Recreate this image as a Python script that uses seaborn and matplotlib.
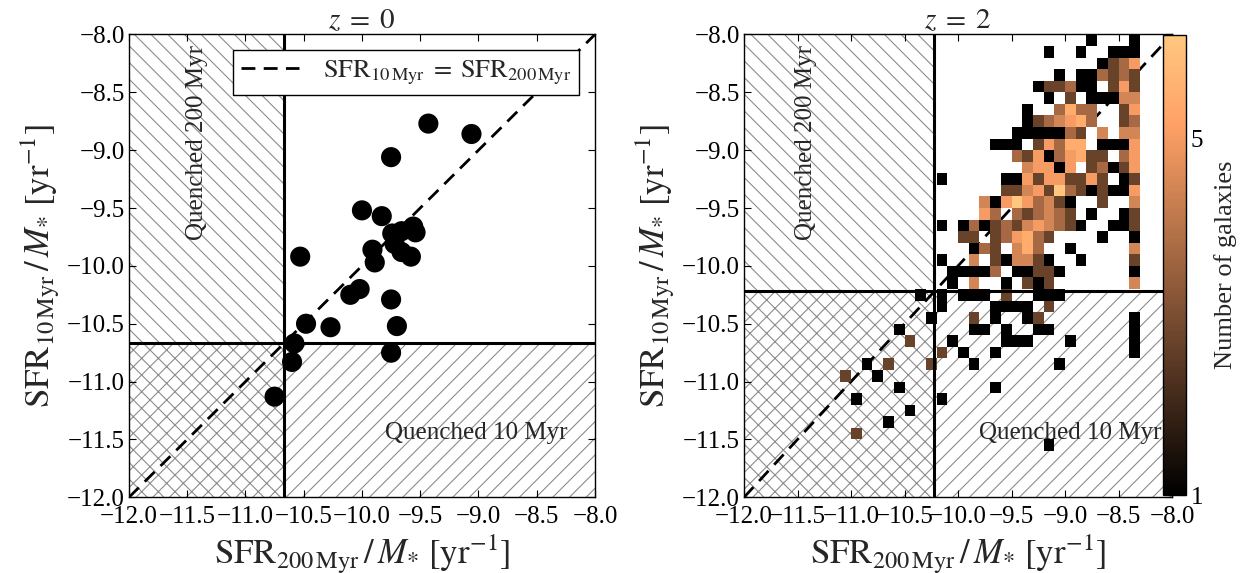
import numpy as np
import matplotlib
matplotlib.use("Agg")
import matplotlib.pyplot as plt
import seaborn as sns
from matplotlib.colors import LogNorm
from matplotlib.patches import Rectangle
from matplotlib.ticker import FuncFormatter, NullLocator

# ---------------- data ----------------
# z = 0 galaxies: log sSFR over 200 Myr (x) and 10 Myr (y)
z0_x = [-9.43, -9.06, -9.75, -10.00, -9.83, -9.74, -9.66, -9.56, -9.54, -9.72,
        -9.66, -9.58, -9.91, -9.89, -10.53, -10.02, -10.10, -9.75, -10.48, -10.27,
        -9.70, -10.58, -9.75, -10.60, -10.75]
z0_y = [-8.77, -8.86, -9.06, -9.52, -9.57, -9.72, -9.70, -9.66, -9.71, -9.81,
        -9.88, -9.92, -9.86, -9.97, -9.92, -10.20, -10.25, -10.29, -10.50, -10.53,
        -10.52, -10.67, -10.75, -10.83, -11.13]

# z = 2 galaxies: 2D histogram counts on a 40x40 grid over [-12,-8]^2
# rows from top (y=-8.0) downward, columns from x=-12.0 rightward; '.' = empty
z2_rows = [
    "..........|..........|..........|..1...1...",
    "..........|..........|........1.|.1..111...",
    "..........|..........|..........|...1235...",
    "..........|..........|.........1|.113232...",
    "..........|..........|.......122|311.252...",
    "..........|..........|........1.|2.11144...",
    "..........|..........|......1..3|633..25...",
    "..........|..........|......1234|563..23...",
    "..........|..........|.....11111|32.4.44...",
    "..........|..........|...111.253|66.1115...",
    "..........|..........|.....32513|5622.35...",
    "..........|..........|......4551|5.23125...",
    "..........|........1.|....115255|2252.12...",
    "..........|..........|....224528|3212115...",
    "..........|..........|..41585342|1..2..4...",
    "..........|..........|..53.32343|2.1..12...",
    "..........|........1.|1312324543|21..112...",
    "..........|..........|22.235632.|...1..1...",
    "..........|..........|.132.463..|1.....4...",
    "..........|........1.|.4.214421.|.1....2...",
    "..........|.........1|1113.11221|......1...",
    "..........|.........1|.4..1.212.|......4...",
    "..........|......1.1.|111.2..111|..........",
    "..........|........1.|...1111.2.|..........",
    "..........|.......1..|.2.1..12..|......1...",
    "..........|....1.....|.11.1..11.|......1...",
    "..........|.....2...1|....111...|1.....1...",
    "..........|........2.|1..1......|......1...",
    "..........|.1.2...2..|.1.......1|..........",
    ".........2|..1.......|..........|..........",
    "..........|....1.....|...1......|..........",
    "..........|1.......1.|..........|..........",
    "..........|.....1....|..........|..........",
    "..........|...1......|..........|..........",
    "..........|2.........|..........|..........",
    "..........|..........|........1.|..........",
]

sfr_lim = [-12.0, -8.0]
tick_vals = [-12.0, -11.5, -11.0, -10.5, -10.0, -9.5, -9.0, -8.5, -8.0]
thr_z0 = -10.67
thr_z2 = -10.22
n_bins = 40
cbar_ticks = [1, 5]
count_max = 8
titles = [r"$z\;=\;0$", r"$z\;=\;2$"]
xlabel = r"$\mathrm{SFR}_{200\,\mathrm{Myr}}\,/\,M_{*}\ [\mathrm{yr}^{-1}]$"
ylabel = r"$\mathrm{SFR}_{10\,\mathrm{Myr}}\,/\,M_{*}\ [\mathrm{yr}^{-1}]$"
legend_label = r"$\mathrm{SFR}_{10\,\mathrm{Myr}}\;=\;\mathrm{SFR}_{200\,\mathrm{Myr}}$"

# ---------------- style ----------------
sns.set_theme(style="white")
plt.rcParams.update({
    "font.family": ["Liberation Serif", "DejaVu Serif"],
    "mathtext.fontset": "stix",
    "axes.edgecolor": "black",
    "axes.linewidth": 1.0,
    "xtick.direction": "in",
    "ytick.direction": "in",
    "xtick.top": True,
    "ytick.right": True,
    "xtick.bottom": True,
    "ytick.left": True,
    "xtick.major.size": 5,
    "ytick.major.size": 5,
    "xtick.major.width": 0.8,
    "ytick.major.width": 0.8,
    "xtick.color": "black",
    "ytick.color": "black",
    "hatch.color": "#8c8c8c",
    "hatch.linewidth": 0.8,
})

fig = plt.figure(figsize=(12.4, 5.73), dpi=100)
ax1 = fig.add_axes([0.1040, 0.1321, 0.3758, 0.8077])
ax2 = fig.add_axes([0.6000, 0.1321, 0.3452, 0.8077])
cax = fig.add_axes([0.9379, 0.1361, 0.0185, 0.8028])

minus_fmt = FuncFormatter(lambda v, p: f"{v:.1f}".replace("-", "\u2212"))


def hatch_regions(ax, thr):
    lo, hi = sfr_lim
    ax.add_patch(Rectangle((lo, thr), thr - lo, hi - thr, fill=False,
                           hatch="\\\\", lw=0, edgecolor="#8c8c8c", zorder=0))
    ax.add_patch(Rectangle((thr, lo), hi - thr, thr - lo, fill=False,
                           hatch="//", lw=0, edgecolor="#8c8c8c", zorder=0))
    ax.add_patch(Rectangle((lo, lo), thr - lo, thr - lo, fill=False,
                           hatch="xx", lw=0, edgecolor="#8c8c8c", zorder=0))


def style_axes(ax, title):
    ax.set_xlim(sfr_lim)
    ax.set_ylim(sfr_lim)
    ax.set_xticks(tick_vals)
    ax.set_yticks(tick_vals)
    ax.xaxis.set_major_formatter(minus_fmt)
    ax.yaxis.set_major_formatter(minus_fmt)
    ax.tick_params(axis="x", labelsize=18, pad=6)
    ax.tick_params(axis="y", labelsize=18, pad=3)
    ax.set_xlabel(xlabel, fontsize=25, labelpad=3)
    ax.set_ylabel(ylabel, fontsize=25, labelpad=4)
    ax.set_title(title, fontsize=21, pad=4)
    for s in ax.spines.values():
        s.set_color("black")
        s.set_linewidth(1.0)


def quench_text(ax):
    ax.text(-11.42, -8.93, "Quenched 200 Myr", rotation=90, fontsize=18,
            ha="center", va="center", zorder=6)
    ax.text(-9.80, -11.44, "Quenched 10 Myr", fontsize=18,
            ha="left", va="center", zorder=6)


# ---------------- left panel: z = 0 ----------------
hatch_regions(ax1, thr_z0)
ax1.axvline(thr_z0, color="black", lw=2.2, zorder=3)
ax1.axhline(thr_z0, color="black", lw=2.2, zorder=3)
sns.lineplot(x=sfr_lim, y=sfr_lim, ax=ax1, color="black", lw=2,
             label=legend_label, zorder=4)
ax1.lines[-1].set_dashes([5, 3])
sns.scatterplot(x=z0_x, y=z0_y, ax=ax1, s=210, color="black",
                edgecolor="none", zorder=5, legend=False)
quench_text(ax1)
leg = ax1.legend(loc="upper right", fontsize=19, frameon=True, fancybox=False,
                 edgecolor="black", framealpha=1, handlelength=2.2,
                 borderaxespad=0.6, borderpad=0.3, handletextpad=0.9)
leg.get_frame().set_linewidth(1.0)
leg.set_zorder(10)
style_axes(ax1, titles[0])

# ---------------- right panel: z = 2 ----------------
counts = np.array([[0 if c == "." else int(c) for c in r.replace("|", "")]
                   for r in z2_rows], dtype=float)
counts = np.vstack([counts, np.zeros((n_bins - counts.shape[0], n_bins))])
x_edges = np.linspace(sfr_lim[0], sfr_lim[1], n_bins + 1)
y_edges = np.linspace(sfr_lim[1], sfr_lim[0], n_bins + 1)

hatch_regions(ax2, thr_z2)
sns.lineplot(x=sfr_lim, y=sfr_lim, ax=ax2, color="black", lw=2, zorder=1,
             legend=False)
ax2.lines[-1].set_dashes([5, 3])
mesh = ax2.pcolormesh(x_edges, y_edges, np.ma.masked_less(counts, 1),
                      cmap="copper", norm=LogNorm(vmin=1, vmax=count_max),
                      zorder=2)
ax2.axvline(thr_z2, color="black", lw=2.2, zorder=3)
ax2.axhline(thr_z2, color="black", lw=2.2, zorder=3)
quench_text(ax2)
style_axes(ax2, titles[1])

cb = fig.colorbar(mesh, cax=cax, ticks=cbar_ticks)
cax.yaxis.set_minor_locator(NullLocator())
cb.set_ticks(cbar_ticks)
cb.set_ticklabels([str(t) for t in cbar_ticks])
cax.tick_params(labelsize=18, direction="in", length=5, right=True, left=False)
cb.outline.set_linewidth(1.0)
cb.outline.set_edgecolor("black")
cb.set_label("Number of galaxies", fontsize=19, labelpad=8)

fig.savefig("out.png", dpi=100)
